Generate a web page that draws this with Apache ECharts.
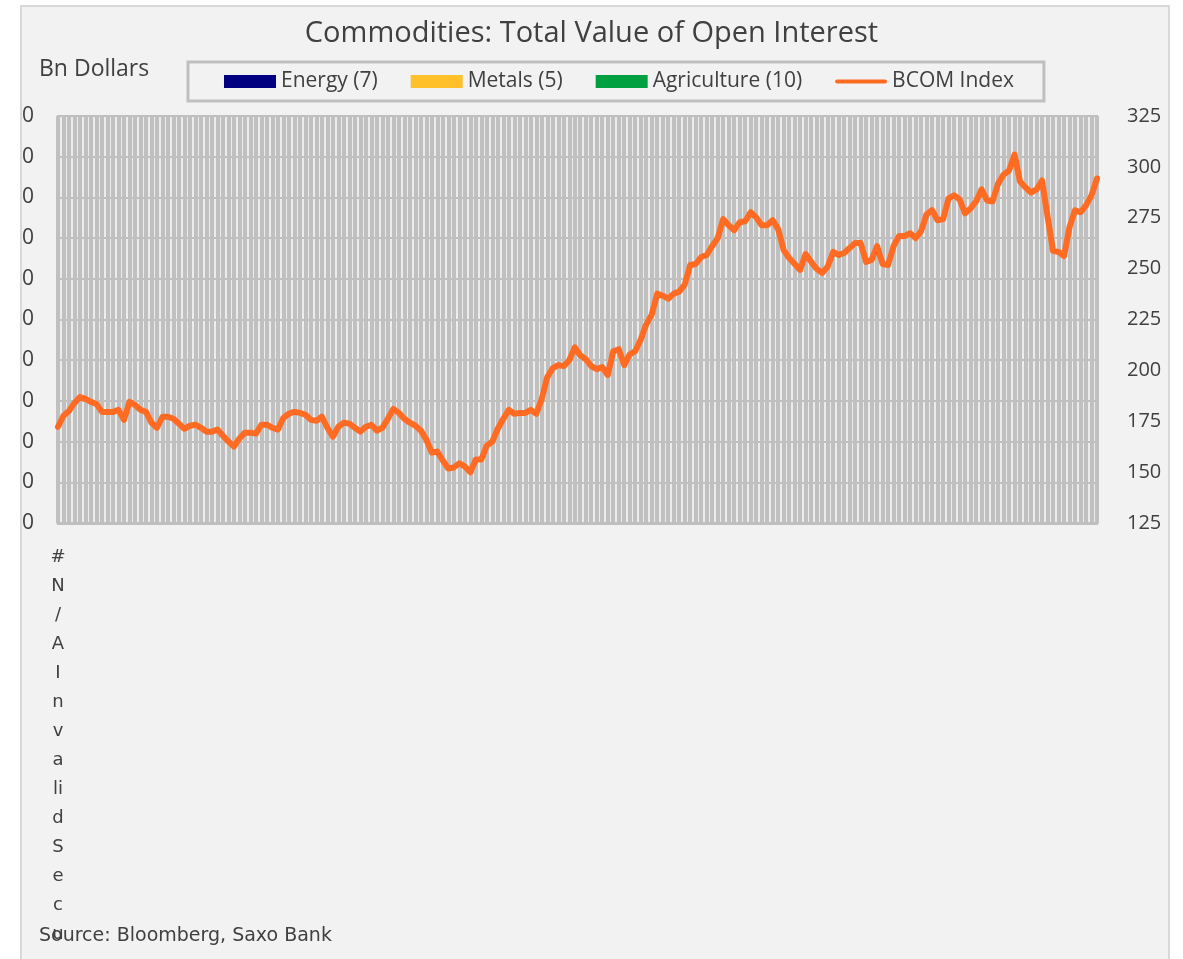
<!DOCTYPE html>
<html>
<head>
<meta charset="utf-8">
<script src="https://cdn.jsdelivr.net/npm/echarts@6/dist/echarts.min.js"></script>
<style>
  html, body { margin: 0; padding: 0; background: #fff; }
  #frame { position: absolute; left: 20px; top: 5px; width: 1146px; height: 980px;
           background: #f2f2f2; border: 2px solid #d9d9d9; }
  #main { position: absolute; left: 0; top: 0; width: 1183px; height: 959px; }
</style>
</head>
<body>
<div id="frame"></div>
<div id="main"></div>
<script>
var titleText = 'Commodities: Total Value of Open Interest';
var firstLabel = '#\nN\n/\nA\nI\nn\nv\na\nli\nd\nS\ne\nc\nu';
var leftTicks = { min: 0, max: 10, interval: 1 };
var rightTicks = { min: 125, max: 325, interval: 25 };

// BCOM index, weekly
var bcom = [
  172.3, 177.7, 180.1, 184.0, 186.9, 186.0, 184.5, 183.5, 179.6, 179.6,
  179.6, 180.6, 175.7, 184.5, 183.0, 180.6, 179.6, 174.3, 171.8, 177.2,
  177.2, 176.2, 173.8, 171.3, 172.8, 173.3, 171.8, 169.9, 169.9, 170.9,
  167.9, 165.0, 162.6, 166.5, 169.4, 169.4, 168.9, 173.3, 173.3, 171.8,
  170.9, 176.7, 178.7, 179.6, 179.1, 178.2, 175.7, 175.2, 177.2, 171.8,
  167.4, 172.3, 174.3, 173.8, 171.8, 169.9, 172.3, 173.3, 170.4, 171.8,
  176.2, 181.1, 179.1, 176.2, 174.3, 172.8, 170.4, 166.0, 159.6, 160.1,
  155.7, 151.8, 152.3, 154.3, 152.8, 149.9, 156.2, 156.2, 163.0, 165.0,
  171.3, 176.2, 180.6, 178.7, 179.1, 179.1, 180.6, 178.7, 186.0, 196.7,
  201.1, 202.6, 202.1, 205.0, 211.3, 207.4, 205.5, 202.1, 200.6, 201.6,
  197.7, 209.4, 210.4, 202.6, 207.9, 209.4, 215.2, 222.6, 227.4, 237.7,
  236.7, 235.2, 237.7, 238.7, 242.1, 251.8, 252.3, 255.7, 256.7, 261.1,
  265.0, 274.3, 271.3, 268.9, 272.8, 273.3, 277.7, 275.2, 271.3, 271.3,
  273.8, 269.4, 259.1, 255.2, 252.3, 249.4, 257.2, 253.3, 249.9, 247.9,
  250.9, 258.2, 256.7, 257.7, 260.1, 262.6, 262.6, 253.3, 254.3, 261.1,
  252.3, 251.8, 261.1, 266.0, 266.0, 267.4, 265.0, 268.4, 276.7, 278.7,
  273.8, 274.3, 284.5, 286.0, 284.0, 277.2, 279.6, 283.0, 288.9, 283.5,
  283.0, 291.8, 296.2, 298.2, 306.0, 292.8, 289.9, 287.4, 288.9, 293.3,
  275.7, 258.7, 258.2, 256.2, 270.4, 278.7, 277.7, 281.1, 286.0, 294.3
];

// open interest series returned #N/A, nothing to draw
var energy = [];
var metals = [];
var agriculture = [];

var categories = bcom.map(function (v, i) { return i === 0 ? firstLabel : ''; });

var textColor = '#404040';
var chart = echarts.init(document.getElementById('main'), null, { renderer: 'canvas' });

var option = {
  animation: false,
  backgroundColor: 'transparent',
  title: {
    text: titleText,
    left: 'center',
    top: 14,
    textStyle: { fontFamily: 'Open Sans', fontSize: 29, fontWeight: 'normal', color: textColor }
  },
  legend: {
    left: 188,
    top: 62,
    padding: [9, 30, 9, 36],
    itemGap: 33,
    itemWidth: 52,
    itemHeight: 13,
    symbolKeepAspect: true,
    borderColor: '#bfbfbf',
    borderWidth: 3,
    backgroundColor: '#f2f2f2',
    textStyle: { fontFamily: 'Open Sans', fontSize: 21, color: textColor },
    data: [
      { name: 'Energy (7)', icon: 'rect' },
      { name: 'Metals (5)', icon: 'rect' },
      { name: 'Agriculture (10)', icon: 'rect' },
      { name: 'BCOM Index', icon: 'path://M2,0 L50,0 A2,2 0 0 1 50,4 L2,4 A2,2 0 0 1 2,0 Z' }
    ]
  },
  grid: {
    left: 58, right: 86, top: 116, bottom: 436,
    show: true,
    backgroundColor: '#ececec',
    borderColor: '#bfbfbf',
    borderWidth: 2
  },
  xAxis: {
    type: 'category',
    data: categories,
    boundaryGap: false,
    axisLine: { lineStyle: { color: '#bfbfbf', width: 3 } },
    axisTick: { show: false },
    splitLine: { show: true, interval: 0, lineStyle: { color: '#c0c0c0', width: 4 } },
    axisLabel: {
      interval: 0,
      margin: 20,
      fontFamily: 'DejaVu Sans',
      fontSize: 18,
      lineHeight: 29,
      color: textColor,
      verticalAlign: 'top'
    }
  },
  yAxis: [
    {
      type: 'value',
      min: leftTicks.min, max: leftTicks.max, interval: leftTicks.interval,
      name: 'Bn Dollars',
      nameLocation: 'end',
      nameGap: 35,
      nameTextStyle: { fontFamily: 'Open Sans', fontSize: 23, color: textColor, align: 'left', padding: [0, 0, 0, -19] },
      axisLine: { show: false },
      axisTick: { show: false },
      splitLine: { show: true, lineStyle: { color: '#bfbfbf', width: 2 } },
      axisLabel: {
        margin: 24,
        fontFamily: 'Open Sans', fontSize: 21, color: textColor,
        formatter: function () { return '0'; }
      }
    },
    {
      type: 'value',
      min: rightTicks.min, max: rightTicks.max, interval: rightTicks.interval,
      axisLine: { show: false },
      axisTick: { show: false },
      splitLine: { show: false },
      axisLabel: { margin: 30, fontFamily: 'Open Sans', fontSize: 20, color: textColor }
    }
  ],
  series: [
    { name: 'Energy (7)', type: 'bar', stack: 'oi', data: energy, itemStyle: { color: '#000080' } },
    { name: 'Metals (5)', type: 'bar', stack: 'oi', data: metals, itemStyle: { color: '#FFC02A' } },
    { name: 'Agriculture (10)', type: 'bar', stack: 'oi', data: agriculture, itemStyle: { color: '#00A040' } },
    {
      name: 'BCOM Index',
      type: 'line',
      yAxisIndex: 1,
      data: bcom,
      symbol: 'none',
      color: '#FF6B22',
      lineStyle: { color: '#FF6B22', width: 6, cap: 'round', join: 'round' },
      z: 5
    }
  ],
  graphic: [
    {
      type: 'text',
      left: 39,
      top: 927,
      style: { text: 'Source: Bloomberg, Saxo Bank', fontFamily: 'DejaVu Sans', fontSize: 19, fill: textColor }
    }
  ]
};

chart.setOption(option);
</script>
</body>
</html>
